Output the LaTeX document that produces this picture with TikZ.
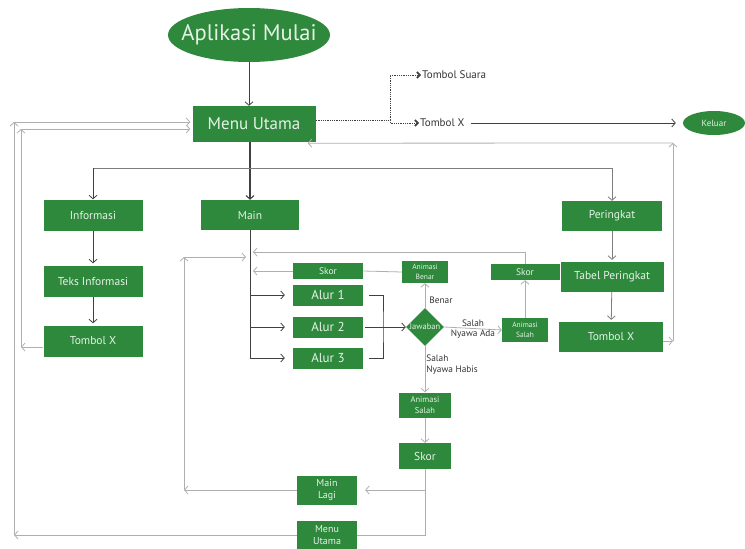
\documentclass[tikz,border=0pt]{standalone}
\usepackage{fontspec}
\setmainfont{PT Sans}
\usetikzlibrary{positioning}
\usetikzlibrary{shapes.geometric}
\usetikzlibrary{arrows.meta}
\usetikzlibrary{calc}
\definecolor{hijau}{RGB}{46,137,60}
\definecolor{teksbox}{RGB}{230,242,230}
\definecolor{garisgelap}{RGB}{64,64,64}
\definecolor{garissedang}{RGB}{125,125,125}
\definecolor{garisterang}{RGB}{175,175,175}
\newcommand{\hur}[1]{\fontsize{#1}{\fpeval{1.25*#1}}\selectfont}

\begin{document}
\begin{tikzpicture}[x=1pt, y=-1pt,
  kotak/.style={fill=hijau, text=teksbox, inner sep=0pt, align=center},
  gelap/.style={draw=garisgelap, line width=0.8pt},
  sedang/.style={draw=garissedang, line width=0.8pt},
  terang/.style={draw=garisterang, line width=0.8pt},
  labelteks/.style={text=black!80, inner sep=1pt, align=left, font=\hur{9.3}},
  >={Straight Barb[length=3.5pt,width=8pt]}
]
  \useasboundingbox (0,0) rectangle (745,549);

  % Menu utama dan tombol atas
  \node[kotak, ellipse, minimum width=162pt, minimum height=54pt] (mulai) at (249,35) {};
  \node[text=teksbox, inner sep=0pt, font=\hur{22.5}] (mulaiteks) at (mulai) {Aplikasi Mulai};
  \node[kotak, minimum width=123pt, minimum height=36pt, font=\hur{17}] (menu) at (254,124) {Menu Utama};
  \node[labelteks, anchor=west, font=\hur{11}] (suara) at (421,75) {Tombol Suara};
  \node[labelteks, anchor=west, font=\hur{11}] (tbx) at (419,123) {Tombol X};
  \node[kotak, ellipse, minimum width=62pt, minimum height=24pt, font=\hur{9}] (keluar) at (714,123) {Keluar};

  % Kolom kiri dan kanan
  \node[kotak, minimum width=99pt, minimum height=31pt, font=\hur{11.5}] (info) at (93,215) {Informasi};
  \node[kotak, minimum width=99pt, minimum height=31pt, font=\hur{11.5}] (teks) at (93,281) {Teks Informasi};
  \node[kotak, minimum width=99pt, minimum height=31pt, font=\hur{11.5}] (infox) at (93,341) {Tombol X};
  \node[kotak, minimum width=98pt, minimum height=30pt, font=\hur{11.5}] (main) at (250,215) {Main};
  \node[kotak, minimum width=100pt, minimum height=30pt, font=\hur{11.5}] (pering) at (612,216) {Peringkat};
  \node[kotak, minimum width=103pt, minimum height=30pt, font=\hur{11.5}] (tabel) at (612,277) {Tabel Peringkat};
  \node[kotak, minimum width=104pt, minimum height=30pt, font=\hur{11.5}] (peringx) at (611,337) {Tombol X};

  % Permainan
  \node[kotak, minimum width=70pt, minimum height=21pt, font=\hur{13}] (alur1) at (328,295) {Alur 1};
  \node[kotak, minimum width=70pt, minimum height=21pt, font=\hur{13}] (alur2) at (328,327) {Alur 2};
  \node[kotak, minimum width=70pt, minimum height=21pt, font=\hur{13}] (alur3) at (328,358) {Alur 3};
  \node[kotak, minimum width=70pt, minimum height=16pt, font=\hur{9.5}] (skorA) at (328,271) {Skor};
  \node[kotak, minimum width=46pt, minimum height=22pt, font=\hur{7.5}] (benar) at (425,272) {Animasi\\Benar};
  \node[kotak, diamond, minimum width=38pt, minimum height=38pt] (jawab) at (425,327) {};
  \node[text=teksbox, inner sep=0pt, font=\hur{8.5}] (jawabteks) at (jawab) {Jawaban};
  \node[kotak, minimum width=69pt, minimum height=16pt, font=\hur{9.5}] (skorB) at (525,272) {Skor};
  \node[kotak, minimum width=46pt, minimum height=24pt, font=\hur{7.5}] (salahA) at (525,330) {Animasi\\Salah};
  \node[kotak, minimum width=52pt, minimum height=25pt, font=\hur{8.5}] (salahB) at (425,405) {Animasi\\Salah};
  \node[kotak, minimum width=52pt, minimum height=26pt, font=\hur{11.5}] (skorC) at (425,456) {Skor};
  \node[kotak, minimum width=60pt, minimum height=29pt, font=\hur{10}] (lagi) at (327,490) {Main\\Lagi};
  \node[kotak, minimum width=60pt, minimum height=29pt, font=\hur{10}] (kembali) at (327,535) {Menu\\Utama};

  % Titik belok
  \coordinate (cabang) at (250,168);
  \coordinate (titikdot) at (390,120);
  \coordinate (kiriA) at (21,347);
  \coordinate (kiriB) at (21,129);
  \coordinate (luarA) at (14,535);
  \coordinate (luarB) at (14,122);
  \coordinate (kurung) at (383,327);
  \coordinate (atas) at (525,252);
  \coordinate (ulangA) at (184,490);
  \coordinate (ulangB) at (184,257);
  \coordinate (kananA) at (673,341);
  \coordinate (kananB) at (673,143);

  % Alur dari menu
  \draw[gelap,->] (mulai.south) -- (mulai.south |- menu.north);
  \draw[gelap,line width=1.1pt,->] (main.north |- menu.south) -- (main.north);
  \draw[sedang] (info.north |- cabang) -- (pering.north |- cabang);
  \draw[gelap,->] (info.north |- cabang) -- (info.north);
  \draw[sedang,->] (pering.north |- cabang) -- (pering.north);
  \draw[gelap,densely dotted] ([yshift=4pt]menu.east) -- (titikdot);
  \draw[gelap,densely dotted,-{Straight Barb[length=3pt,width=6pt,line width=1.6pt]}] (titikdot) |- (suara.west);
  \draw[gelap,densely dotted,-{Straight Barb[length=3pt,width=6pt,line width=1.6pt]}] (titikdot) |- (tbx.west);
  \draw[gelap,->,shorten <=5pt,shorten >=7pt] (tbx.east) -- (keluar.west);

  % Informasi
  \draw[gelap,->,shorten >=2pt] (info) -- (teks);
  \draw[gelap,->,shorten >=2pt] (teks) -- (infox);
  \draw[terang,->] (infox.west |- kiriA) -- (kiriA);
  \draw[terang,->] (kiriA) -- (kiriB);
  \draw[terang,->,shorten >=2pt] (kiriB) -- (kiriB -| menu.west);
  \draw[terang,->] (kembali.west) -- (luarA);
  \draw[terang,->] (luarA) -- (luarB);
  \draw[terang,->,shorten >=2pt] (luarB) -- (luarB -| menu.west);

  % Main
  \draw[gelap] (main.south) -- (main.south |- alur3);
  \foreach \a in {alur1,alur2,alur3}
    \draw[gelap,->,shorten >=8pt] (main.south |- \a) -- (\a.west);
  \draw[gelap] ([xshift=6pt]alur1.east) -| (kurung) |- ([xshift=6pt]alur3.east);
  \draw[gelap,->] ([xshift=2pt]alur2.east) -- (jawab.west);
  \draw[terang,->] (jawab.north) -- (benar.south) node[labelteks, pos=0.3, anchor=west, xshift=3pt] (lbenar) {Benar};
  \draw[terang] (benar.west) -- (skorA.east);
  \draw[terang,->,shorten >=3pt] (skorA.west) -- (skorA.west -| main.south);
  \draw[terang,->] (jawab.east) -- (salahA.west)
    node[labelteks, midway, above] (lsalah) {Salah}
    node[labelteks, midway, below] (lnyawa) {Nyawa Ada};
  \draw[terang,->] (salahA.north) -- (skorB.south);
  \draw[terang,->,shorten >=3pt] (skorB.north) |- (main.south |- atas);
  \draw[terang,->] (jawab.south) -- (salahB.north) node[labelteks, pos=0.4, anchor=west] (lhabis) {Salah\\Nyawa Habis};
  \draw[terang,->] (salahB) -- (skorC);
  \draw[terang] (skorC.south) |- (kembali.east);
  \draw[terang,->,shorten >=8pt] (skorC.south |- lagi) -- (lagi.east);
  \draw[terang,->] (lagi.west) -- (ulangA);
  \draw[terang,->] (ulangA) -- (ulangB);
  \draw[terang,->,shorten >=4pt] (ulangB) -- (ulangB -| main.south);

  % Peringkat
  \draw[sedang,->,shorten >=2pt] (pering) -- (tabel);
  \draw[sedang,->,shorten >=2pt] (tabel) -- (peringx);
  \draw[terang,->] (peringx.east |- kananA) -- (kananA);
  \draw[terang,->] (kananA) -- (kananB);
  \draw[terang,->] (kananB) -- ($(menu.south east)+(-8,1)$);
\end{tikzpicture}
\end{document}
